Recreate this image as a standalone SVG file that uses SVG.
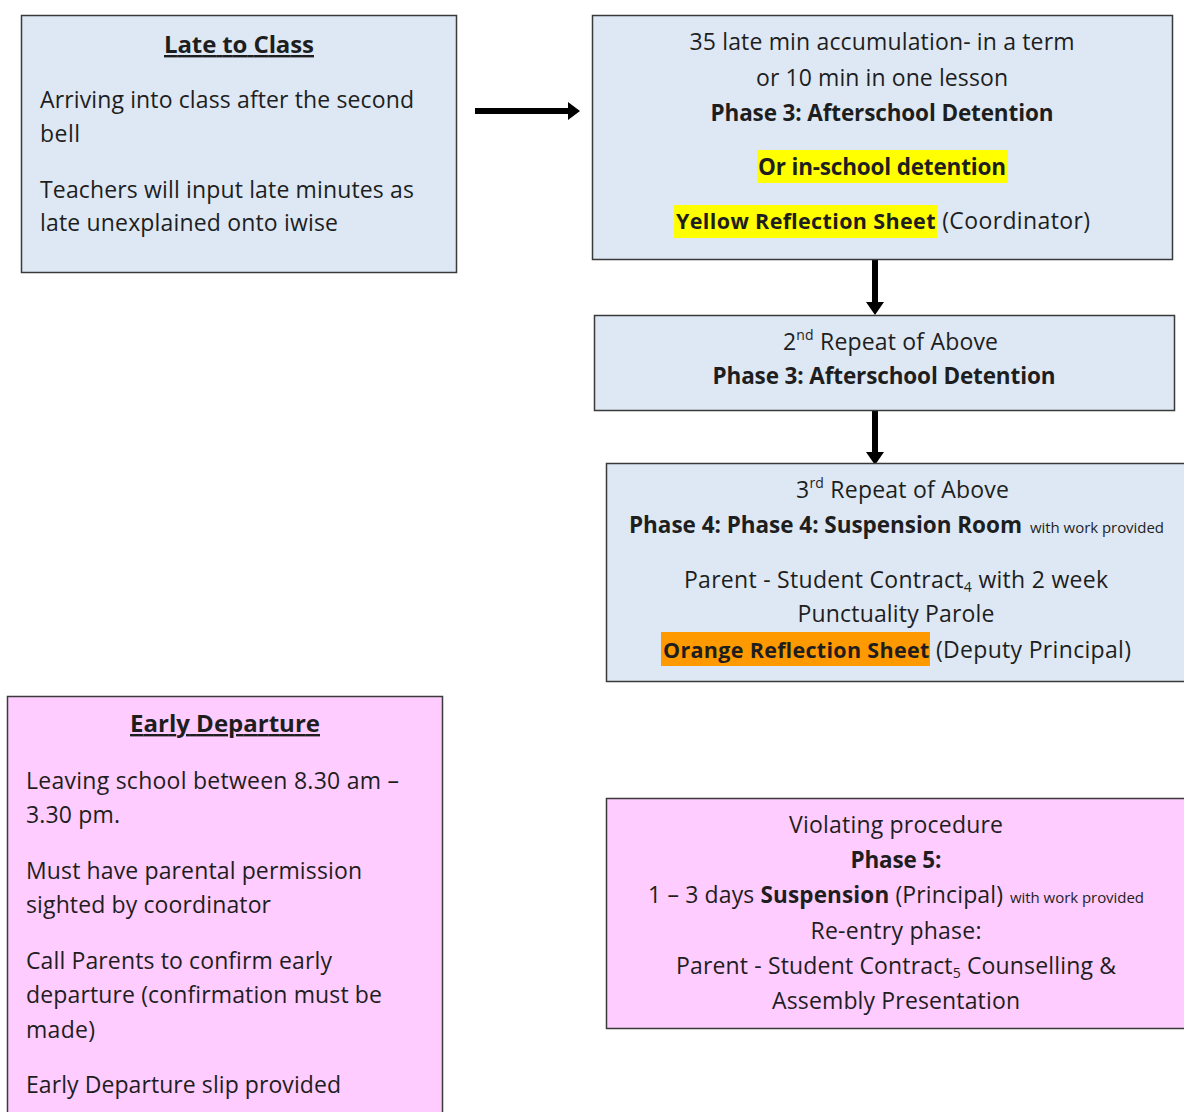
<svg xmlns="http://www.w3.org/2000/svg" width="1184" height="1112" viewBox="0 0 1184 1112">
<style>
.blue{fill:#dde8f4;stroke:#3a3a3a;stroke-width:1.5}
.pink{fill:#ffccff;stroke:#3a3a3a;stroke-width:1.5}
text{font-family:"Open Sans","Noto Sans","Liberation Sans",sans-serif;font-size:23px;fill:#1e1e1e}
.c{text-anchor:middle}
.b{font-weight:bold;font-size:22.5px}
.h{font-weight:bold;font-size:21.5px}
.t{font-weight:bold;font-size:24px}
.s{font-size:15px}
.u{text-decoration:underline}
.sup{font-size:14px}
.arr{fill:#000}
</style>
<rect width="1184" height="1112" fill="#fff"/>
<g id="connectors">
<path class="arr" d="M475,108 H568 V102 L580,111 L568,120 V114 H475 Z"/>
<path class="arr" d="M872,260 V302 H866 L875,315 L884,302 H878 V260 Z"/>
<path class="arr" d="M872,411 V452 H866 L875,465 L884,452 H878 V411 Z"/>
</g>
<g id="late-to-class">
<rect class="blue" x="21.5" y="15.5" width="435" height="257"/>
<text class="c t u" x="239" y="53" textLength="150">Late to Class</text>
<text x="40" y="108" textLength="374">Arriving into class after the second</text>
<text x="40" y="142" textLength="40">bell</text>
<text x="40" y="198" textLength="374">Teachers will input late minutes as</text>
<text x="40" y="231" textLength="298">late unexplained onto iwise</text>
</g>
<g id="phase3-first">
<rect class="blue" x="592.5" y="15.5" width="580" height="244"/>
<rect x="757" y="150" width="251" height="33" fill="#ffff00"/>
<rect x="674" y="205" width="263" height="33" fill="#ffff00"/>
<text class="c" x="882" y="50" textLength="385">35 late min accumulation- in a term</text>
<text class="c" x="882" y="86" textLength="252">or 10 min in one lesson</text>
<text class="c b" x="882" y="121" textLength="343">Phase 3: Afterschool Detention</text>
<text class="c b" x="882" y="175" textLength="248">Or in-school detention</text>
<text x="676" y="229" textLength="414"><tspan class="h">Yellow Reflection Sheet</tspan> (Coordinator)</text>
</g>
<g id="phase3-repeat">
<rect class="blue" x="594.5" y="315.5" width="580" height="95"/>
<text x="783" y="350" textLength="215">2<tspan class="sup" dy="-10">nd</tspan><tspan dy="10"> Repeat of Above</tspan></text>
<text class="c b" x="884" y="384" textLength="343">Phase 3: Afterschool Detention</text>
</g>
<g id="phase4">
<rect class="blue" x="606.5" y="463.5" width="590" height="218"/>
<rect x="661" y="632" width="269" height="34" fill="#ff9900"/>
<text x="796" y="498" textLength="213">3<tspan class="sup" dy="-10">rd</tspan><tspan dy="10"> Repeat of Above</tspan></text>
<text class="b" x="629" y="533" textLength="393">Phase 4: Phase 4: Suspension Room</text>
<text class="s" x="1030" y="533" textLength="134">with work provided</text>
<text x="684" y="588" textLength="424">Parent - Student Contract<tspan class="sup" dy="4">4</tspan><tspan dy="-4"> with 2 week</tspan></text>
<text class="c" x="896" y="622" textLength="197">Punctuality Parole</text>
<text x="663" y="658" textLength="468"><tspan class="h">Orange Reflection Sheet</tspan> (Deputy Principal)</text>
</g>
<g id="early-departure">
<rect class="pink" x="7.5" y="696.5" width="435" height="430"/>
<text class="c t u" x="225" y="732" textLength="190">Early Departure</text>
<text x="26" y="789" textLength="373">Leaving school between 8.30 am –</text>
<text x="26" y="823" textLength="94">3.30 pm.</text>
<text x="26" y="879" textLength="336">Must have parental permission</text>
<text x="26" y="913" textLength="245">sighted by coordinator</text>
<text x="26" y="969" textLength="306">Call Parents to confirm early</text>
<text x="26" y="1003" textLength="356">departure (confirmation must be</text>
<text x="26" y="1038" textLength="69">made)</text>
<text x="26" y="1093" textLength="315">Early Departure slip provided</text>
</g>
<g id="phase5">
<rect class="pink" x="606.5" y="798.5" width="590" height="230"/>
<text class="c" x="896" y="833" textLength="214">Violating procedure</text>
<text class="c b" x="896" y="868" textLength="91">Phase 5:</text>
<text x="648" y="903" textLength="355">1 – 3 days <tspan class="b">Suspension</tspan> (Principal)</text>
<text class="s" x="1010" y="903" textLength="134">with work provided</text>
<text class="c" x="896" y="939" textLength="171">Re-entry phase:</text>
<text x="676" y="974" textLength="440">Parent - Student Contract<tspan class="sup" dy="4">5</tspan><tspan dy="-4"> Counselling &amp;</tspan></text>
<text class="c" x="896" y="1009" textLength="248">Assembly Presentation</text>
</g>
</svg>
